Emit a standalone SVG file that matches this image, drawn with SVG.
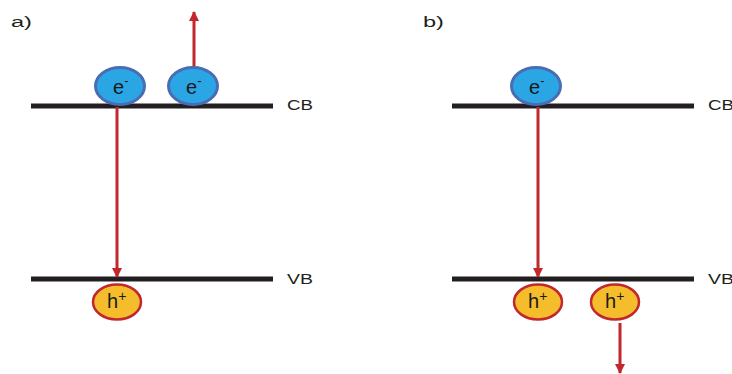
<svg xmlns="http://www.w3.org/2000/svg" width="732" height="374" viewBox="0 0 732 374">
  <style>
    .band { stroke: #231f20; stroke-width: 5; }
    .lbl { font-family: "Liberation Sans", Arial, sans-serif; font-size: 15.5px; fill: #231f20; }
    .elec { fill: #29a6e3; stroke: #4a6cb3; stroke-width: 3; }
    .hole { fill: #f5bd2c; stroke: #c1272d; stroke-width: 2.5; }
    .ptxt { font-family: "Liberation Sans", Arial, sans-serif; font-size: 20px; fill: #1a1a1a; }
    .arrow { stroke: #c1272d; stroke-width: 3; fill: none; marker-end: url(#head); }
  </style>
  <defs>
    <marker id="head" viewBox="0 0 10 10" refX="9" refY="5" markerWidth="3.6" markerHeight="3.4" orient="auto" markerUnits="strokeWidth">
      <path d="M0,0 L10,5 L0,10 z" fill="#c1272d"/>
    </marker>
  </defs>
  <rect width="732" height="374" fill="#ffffff"/>

  <!-- panel labels -->
  <text class="lbl" x="11" y="27" font-size="19" textLength="21" lengthAdjust="spacingAndGlyphs">a)</text>
  <text class="lbl" x="423" y="27" font-size="19" textLength="21" lengthAdjust="spacingAndGlyphs">b)</text>

  <!-- band edges -->
  <g id="bands">
    <line class="band" x1="31" y1="106" x2="273" y2="106"/>
    <line class="band" x1="31" y1="279" x2="273" y2="279"/>
    <line class="band" x1="452" y1="106" x2="694" y2="106"/>
    <line class="band" x1="452" y1="279" x2="694" y2="279"/>
    <text class="lbl" x="287" y="110" textLength="26" lengthAdjust="spacingAndGlyphs">CB</text>
    <text class="lbl" x="287" y="284" textLength="26" lengthAdjust="spacingAndGlyphs">VB</text>
    <text class="lbl" x="708" y="110" textLength="26" lengthAdjust="spacingAndGlyphs">CB</text>
    <text class="lbl" x="708" y="284" textLength="26" lengthAdjust="spacingAndGlyphs">VB</text>
  </g>

  <!-- transitions -->
  <g id="connectors">
    <line class="arrow" x1="117" y1="107" x2="117" y2="277"/>
    <line class="arrow" x1="194" y1="67" x2="194" y2="12"/>
    <line class="arrow" x1="538" y1="107" x2="538" y2="277"/>
    <line class="arrow" x1="620" y1="323" x2="620" y2="373"/>
  </g>

  <!-- panel a carriers -->
  <g id="a-e1">
    <ellipse class="elec" cx="120" cy="86" rx="24.5" ry="18.5"/>
    <text class="ptxt" x="113" y="94">e<tspan font-size="13" dy="-9">-</tspan></text>
  </g>
  <g id="a-e2">
    <ellipse class="elec" cx="193" cy="86" rx="24.5" ry="18.5"/>
    <text class="ptxt" x="186" y="94">e<tspan font-size="13" dy="-9">-</tspan></text>
  </g>
  <g id="a-h1">
    <ellipse class="hole" cx="117" cy="302" rx="24" ry="17.5"/>
    <text class="ptxt" x="107" y="308">h<tspan font-size="14" dy="-7">+</tspan></text>
  </g>

  <!-- panel b carriers -->
  <g id="b-e1">
    <ellipse class="elec" cx="536" cy="86" rx="24.5" ry="18.5"/>
    <text class="ptxt" x="529" y="94">e<tspan font-size="13" dy="-9">-</tspan></text>
  </g>
  <g id="b-h1">
    <ellipse class="hole" cx="538" cy="302" rx="24" ry="17.5"/>
    <text class="ptxt" x="528" y="308">h<tspan font-size="14" dy="-7">+</tspan></text>
  </g>
  <g id="b-h2">
    <ellipse class="hole" cx="615" cy="302" rx="24" ry="17.5"/>
    <text class="ptxt" x="605" y="308">h<tspan font-size="14" dy="-7">+</tspan></text>
  </g>
</svg>
